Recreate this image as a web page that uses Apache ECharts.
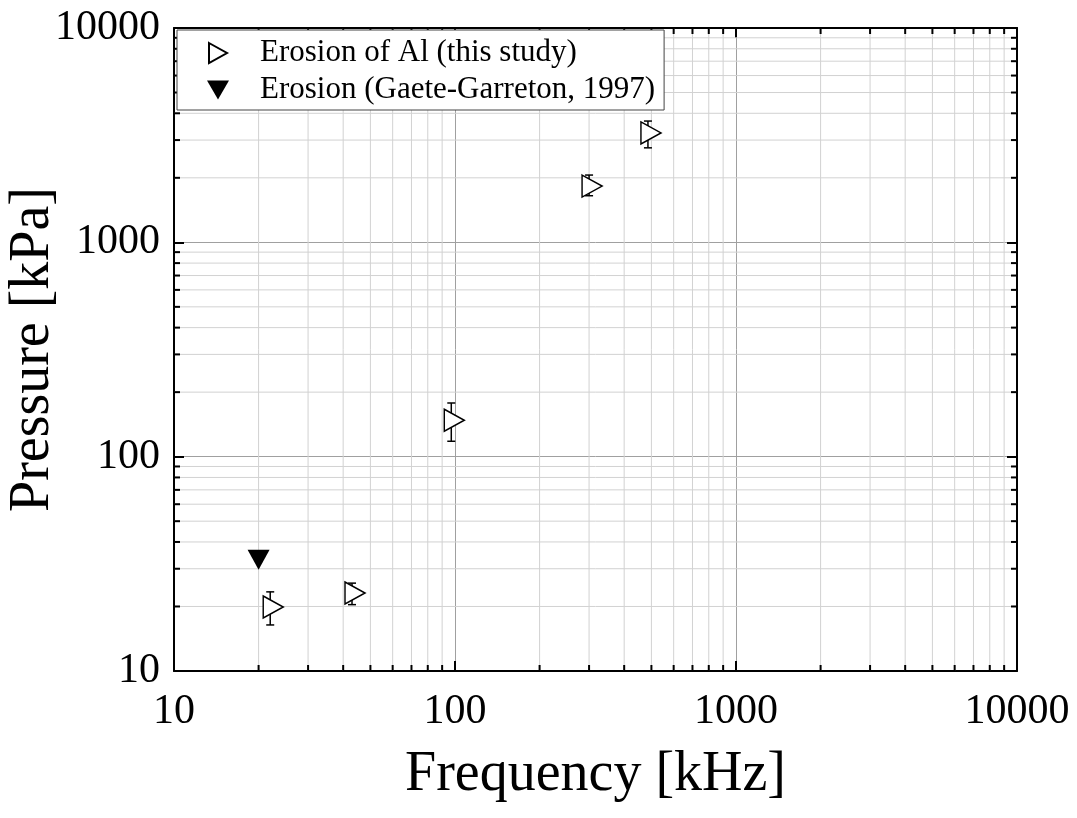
<!DOCTYPE html>
<html>
<head>
<meta charset="utf-8">
<script src="https://cdn.jsdelivr.net/npm/echarts@6/dist/echarts.min.js"></script>
<style>
  html, body { margin: 0; padding: 0; background: #fff; }
  #main { width: 1077px; height: 818px; }
</style>
</head>
<body>
<div id="main"></div>
<script>
// data
var freq = [22, 43, 97, 300, 486];
var pressure = [19.9, 23.1, 148, 1830, 3240];
var errLow = [16.4, 20.4, 118, 1650, 2760];
var errHigh = [23.4, 25.7, 178, 2060, 3680];

var gaeteFreq = [20];
var gaetePressure = [33];

var majorTicks = [10, 100, 1000, 10000];

var FONT = "'Liberation Serif', 'Times New Roman', serif";

// minor ticks 2..9 of each decade
var minorTicks = [];
for (var d = 0; d < majorTicks.length - 1; d++) {
  for (var k = 2; k <= 9; k++) {
    minorTicks.push(majorTicks[d] * k);
  }
}

var errData = [];
for (var i = 0; i < freq.length; i++) {
  errData.push([freq[i], errLow[i], errHigh[i]]);
}
var alData = freq.map(function (f, i) { return [f, pressure[i]]; });
var gaeteData = gaeteFreq.map(function (f, i) { return [f, gaetePressure[i]]; });

var myChart = echarts.init(document.getElementById('main'));

function minorX(params, api) {
  var v = api.value(0);
  var b = api.coord([v, 10]);
  var t = api.coord([v, 10000]);
  return {
    type: 'group',
    children: [
      { type: 'line', shape: { x1: b[0], y1: b[1], x2: t[0], y2: t[1] }, style: { stroke: '#d2d2d2', lineWidth: 1 } },
      { type: 'line', shape: { x1: b[0], y1: b[1], x2: b[0], y2: b[1] - 6 }, style: { stroke: '#000', lineWidth: 2 } },
      { type: 'line', shape: { x1: t[0], y1: t[1], x2: t[0], y2: t[1] + 6 }, style: { stroke: '#000', lineWidth: 2 } }
    ]
  };
}

function minorY(params, api) {
  var v = api.value(1);
  var l = api.coord([10, v]);
  var r = api.coord([10000, v]);
  return {
    type: 'group',
    children: [
      { type: 'line', shape: { x1: l[0], y1: l[1], x2: r[0], y2: r[1] }, style: { stroke: '#d2d2d2', lineWidth: 1 } },
      { type: 'line', shape: { x1: l[0], y1: l[1], x2: l[0] + 6, y2: l[1] }, style: { stroke: '#000', lineWidth: 2 } },
      { type: 'line', shape: { x1: r[0], y1: r[1], x2: r[0] - 6, y2: r[1] }, style: { stroke: '#000', lineWidth: 2 } }
    ]
  };
}

function errorBar(params, api) {
  var x = api.value(0);
  var lo = api.coord([x, api.value(1)]);
  var hi = api.coord([x, api.value(2)]);
  var w = 4;
  var st = { stroke: '#000', lineWidth: 1.5 };
  return {
    type: 'group',
    children: [
      { type: 'line', shape: { x1: lo[0], y1: lo[1], x2: hi[0], y2: hi[1] }, style: st },
      { type: 'line', shape: { x1: lo[0] - w, y1: lo[1], x2: lo[0] + w, y2: lo[1] }, style: st },
      { type: 'line', shape: { x1: hi[0] - w, y1: hi[1], x2: hi[0] + w, y2: hi[1] }, style: st }
    ]
  };
}

function plainNumber(v) {
  return String(Math.round(v));
}

var axisCommon = {
  type: 'log',
  logBase: 10,
  min: 10,
  max: 10000,
  splitNumber: 3,
  axisLine: { show: true, onZero: false, lineStyle: { color: '#000', width: 2 } },
  axisTick: { show: true, inside: true, length: 10, lineStyle: { color: '#000', width: 2 } },
  splitLine: { show: false }
};

var option = {
  backgroundColor: '#fff',
  animation: false,
  grid: { left: 174, right: 60, top: 28, bottom: 147, containLabel: false, outerBoundsMode: 'none' },
  legend: {
    orient: 'vertical',
    left: 177,
    top: 30,
    padding: [6, 9, 3, 30],
    itemGap: 3,
    itemWidth: 22,
    itemHeight: 20,
    backgroundColor: '#fff',
    borderColor: '#444',
    borderWidth: 1,
    borderRadius: 0,
    textStyle: { fontFamily: FONT, fontSize: 31, color: '#000', lineHeight: 34, padding: [0, 0, 0, 26] },
    data: [
      { name: 'Erosion of Al (this study)', icon: 'path://M0,0 L9,5 L0,10 Z' },
      { name: 'Erosion (Gaete-Garreton, 1997)', icon: 'path://M0,0 L22,0 L11,19 Z' }
    ]
  },
  xAxis: [
    Object.assign({}, axisCommon, {
      position: 'bottom',
      name: 'Frequency [kHz]',
      nameLocation: 'middle',
      nameGap: 76,
      nameMoveOverlap: false,
      nameTextStyle: { fontFamily: FONT, fontSize: 56, color: '#000' },
      axisLabel: { fontFamily: FONT, fontSize: 42, color: '#000', margin: 20, formatter: plainNumber },
      splitLine: { show: true, lineStyle: { color: '#a0a0a0', width: 1 } }
    }),
    Object.assign({}, axisCommon, {
      position: 'top',
      axisLabel: { show: false }
    })
  ],
  yAxis: [
    Object.assign({}, axisCommon, {
      position: 'left',
      name: 'Pressure [kPa]',
      nameLocation: 'middle',
      nameGap: 113,
      nameMoveOverlap: false,
      nameTextStyle: { fontFamily: FONT, fontSize: 56, color: '#000' },
      axisLabel: { fontFamily: FONT, fontSize: 42, color: '#000', margin: 14, formatter: plainNumber },
      splitLine: { show: true, lineStyle: { color: '#a0a0a0', width: 1 } }
    }),
    Object.assign({}, axisCommon, {
      position: 'right',
      axisLabel: { show: false }
    })
  ],
  series: [
    {
      type: 'custom',
      silent: true,
      z: 1,
      renderItem: minorX,
      data: minorTicks.map(function (v) { return [v, 10]; })
    },
    {
      type: 'custom',
      silent: true,
      z: 1,
      renderItem: minorY,
      data: minorTicks.map(function (v) { return [10, v]; })
    },
    {
      type: 'custom',
      z: 3,
      renderItem: errorBar,
      encode: { x: 0, y: [1, 2] },
      data: errData
    },
    {
      name: 'Erosion of Al (this study)',
      type: 'scatter',
      z: 4,
      symbol: 'path://M0,0 L10,5.5 L0,11 Z',
      symbolSize: [20, 22],
      symbolOffset: [3, 0],
      itemStyle: { color: '#fff', borderColor: '#000', borderWidth: 1.5, opacity: 1 },
      data: alData
    },
    {
      name: 'Erosion (Gaete-Garreton, 1997)',
      type: 'scatter',
      z: 4,
      symbol: 'path://M0,0 L22,0 L11,20 Z',
      symbolSize: [22, 20],
      itemStyle: { color: '#000', opacity: 1 },
      data: gaeteData
    }
  ]
};

myChart.setOption(option);

window.onresize = function () {
  myChart.resize();
};
</script>
</body>
</html>
